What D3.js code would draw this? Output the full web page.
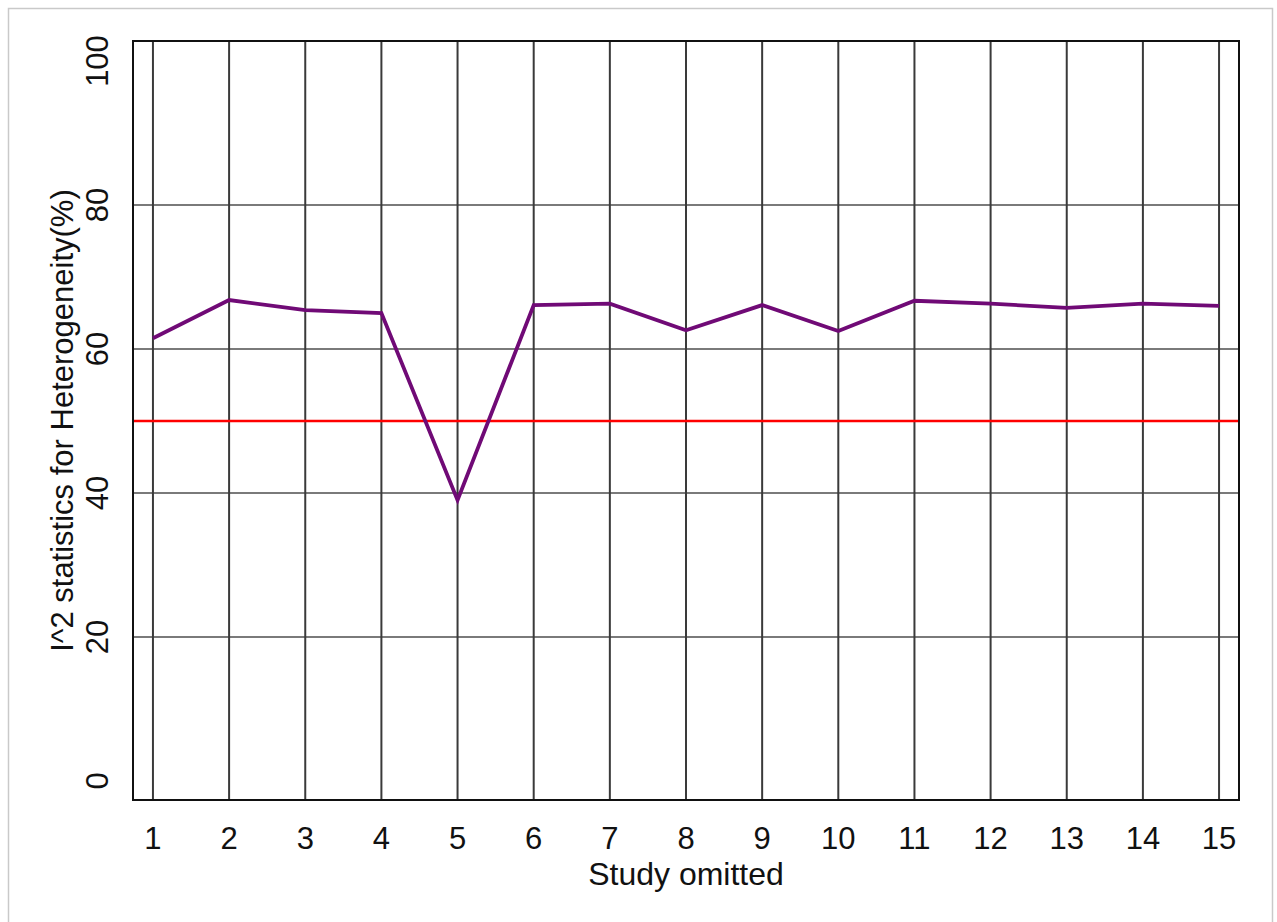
<!DOCTYPE html>
<html>
<head>
<meta charset="utf-8">
<script src="https://cdn.jsdelivr.net/npm/d3@7"></script>
<style>
  body { margin: 0; background: #fff; }
  text { font-family: "Liberation Sans", Arial, sans-serif; fill: #111; }
</style>
</head>
<body>
<div class="chart"></div>
<script>
// studies omitted one at a time, and I^2 of the remaining pooled estimate
var studies = [1, 2, 3, 4, 5, 6, 7, 8, 9, 10, 11, 12, 13, 14, 15];
var i2 = [61.5, 66.8, 65.4, 65.0, 39.0, 66.1, 66.3, 62.6, 66.1, 62.5, 66.7, 66.3, 65.7, 66.3, 66.0];
var yTicks = [0, 20, 40, 60, 80, 100];
var gridY = [20, 40, 60, 80];
var threshold = 50;

var W = 1277, H = 922;
var box = { left: 133, right: 1239, top: 41, bottom: 800 };

var x = d3.scaleLinear()
    .domain([0.738, 15.262])
    .range([box.left, box.right]);

var y = d3.scaleLinear()
    .domain([-2.64, 102.78])
    .range([box.bottom, box.top]);

var svg = d3.select(".chart").append("svg")
    .attr("width", W)
    .attr("height", H);

// light frame round the whole figure
svg.append("rect")
    .attr("x", 8.5).attr("y", 8.5)
    .attr("width", 1264).attr("height", 940)
    .attr("fill", "none")
    .attr("stroke", "#c9c9c9")
    .attr("stroke-width", 1.5);

// horizontal grid
svg.selectAll(".hgrid")
    .data(gridY)
  .enter().append("line")
    .attr("class", "hgrid")
    .attr("x1", box.left).attr("x2", box.right)
    .attr("y1", function(d) { return y(d); })
    .attr("y2", function(d) { return y(d); })
    .attr("stroke", "#7a7a7a")
    .attr("stroke-width", 2);

// vertical grid, one per study
svg.selectAll(".vgrid")
    .data(studies)
  .enter().append("line")
    .attr("class", "vgrid")
    .attr("x1", function(d) { return x(d); })
    .attr("x2", function(d) { return x(d); })
    .attr("y1", box.top).attr("y2", box.bottom)
    .attr("stroke", "#3a3a3a")
    .attr("stroke-width", 2);

// 50% reference line
svg.append("line")
    .attr("x1", box.left).attr("x2", box.right)
    .attr("y1", y(threshold)).attr("y2", y(threshold))
    .attr("stroke", "#ff0000")
    .attr("stroke-width", 2.5);

var line = d3.line()
    .x(function(d, i) { return x(studies[i]); })
    .y(function(d) { return y(d); });

svg.append("path")
    .datum(i2)
    .attr("d", line)
    .attr("fill", "none")
    .attr("stroke", "#700a76")
    .attr("stroke-width", 3.8)
    .attr("stroke-linejoin", "miter");

// plot box
svg.append("rect")
    .attr("x", box.left).attr("y", box.top)
    .attr("width", box.right - box.left)
    .attr("height", box.bottom - box.top)
    .attr("fill", "none")
    .attr("stroke", "#111")
    .attr("stroke-width", 2);

// x tick labels
svg.selectAll(".xtick")
    .data(studies)
  .enter().append("text")
    .attr("class", "xtick")
    .attr("x", function(d) { return x(d); })
    .attr("y", 849)
    .attr("text-anchor", "middle")
    .style("font-size", "31px")
    .text(function(d) { return d; });

// y tick labels, rotated like R's default las=0
svg.selectAll(".ytick")
    .data(yTicks)
  .enter().append("text")
    .attr("class", "ytick")
    .attr("transform", function(d) { return "translate(108," + y(d) + ") rotate(-90)"; })
    .attr("text-anchor", "middle")
    .style("font-size", "31px")
    .text(function(d) { return d; });

svg.append("text")
    .attr("x", (box.left + box.right) / 2)
    .attr("y", 885)
    .attr("text-anchor", "middle")
    .style("font-size", "32px")
    .text("Study omitted");

svg.append("text")
    .attr("transform", "translate(73," + (box.top + box.bottom) / 2 + ") rotate(-90)")
    .attr("text-anchor", "middle")
    .style("font-size", "31px")
    .text("I^2 statistics for Heterogeneity(%)");
</script>
</body>
</html>
